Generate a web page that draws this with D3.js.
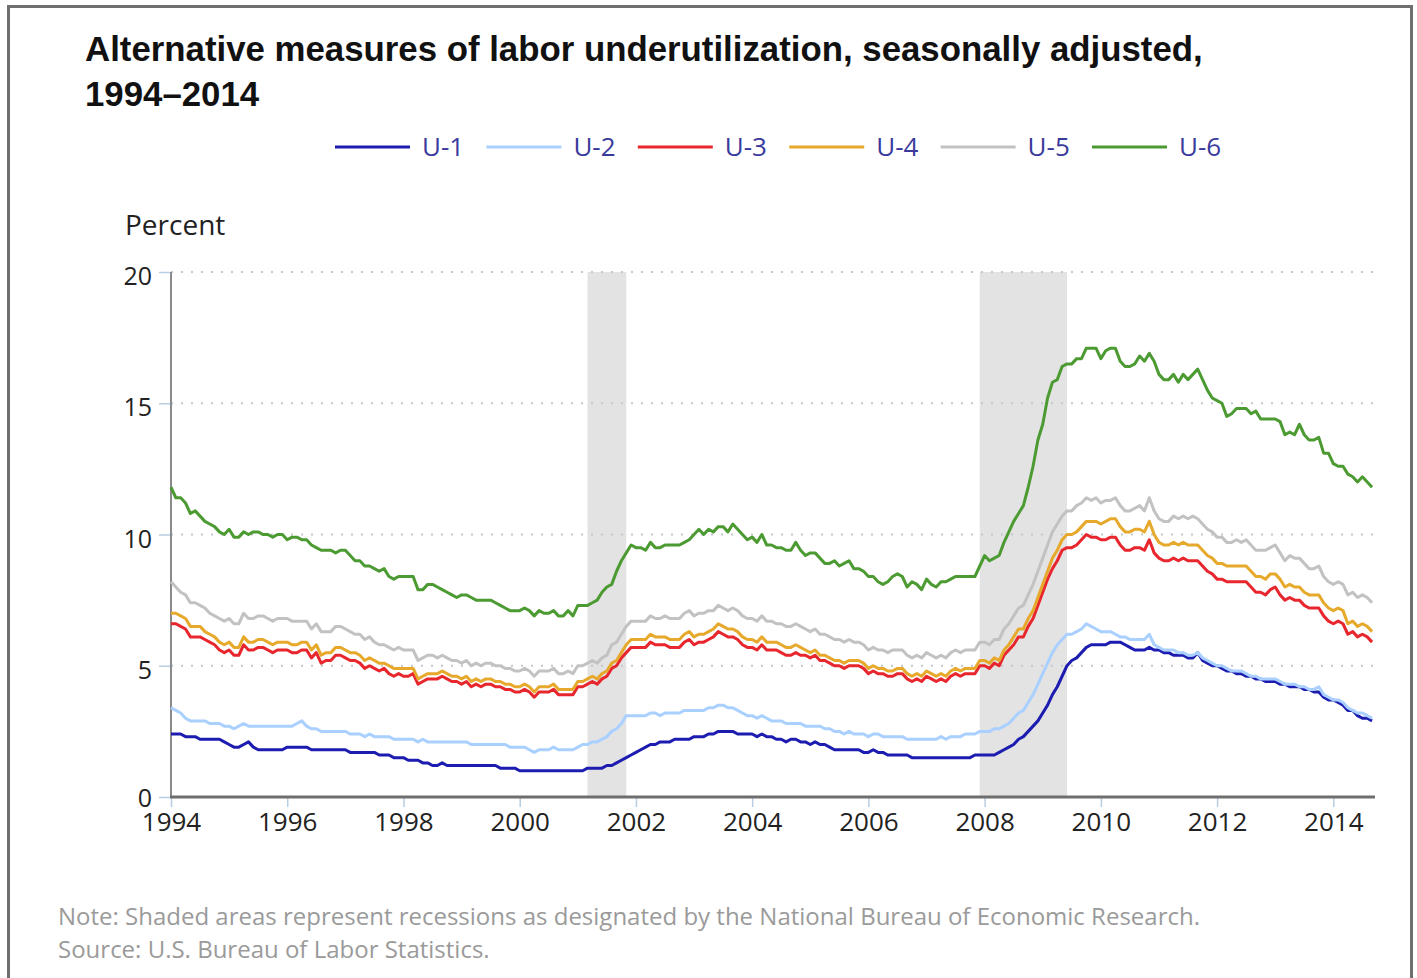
<!DOCTYPE html>
<html>
<head>
<meta charset="utf-8">
<script src="https://cdn.jsdelivr.net/npm/d3@7"></script>
<style>
  html, body { margin: 0; padding: 0; background: #fff; }
  svg { display: block; }
</style>
</head>
<body>
<svg id="chart" width="1417" height="978"></svg>
<script>
// ---------- DATA (monthly, Jan 1994 – Sep 2014) ----------
const startYear = 1994;
const seriesNames = ["U-1", "U-2", "U-3", "U-4", "U-5", "U-6"];
const seriesColors = ["#1c1cb0", "#a9d0ff", "#e8262d", "#e6a92c", "#c2c2c2", "#4c9a32"];

const u1 = [
  2.4,2.4,2.4,2.3,2.3,2.3,2.2,2.2,2.2,2.2,2.2,2.1,
  2.0,1.9,1.9,2.0,2.1,1.9,1.8,1.8,1.8,1.8,1.8,1.8,
  1.9,1.9,1.9,1.9,1.9,1.8,1.8,1.8,1.8,1.8,1.8,1.8,
  1.8,1.7,1.7,1.7,1.7,1.7,1.7,1.6,1.6,1.6,1.5,1.5,
  1.5,1.4,1.4,1.4,1.3,1.3,1.2,1.2,1.3,1.2,1.2,1.2,
  1.2,1.2,1.2,1.2,1.2,1.2,1.2,1.2,1.1,1.1,1.1,1.1,
  1.0,1.0,1.0,1.0,1.0,1.0,1.0,1.0,1.0,1.0,1.0,1.0,
  1.0,1.0,1.1,1.1,1.1,1.1,1.2,1.2,1.3,1.4,1.5,1.6,
  1.7,1.8,1.9,2.0,2.0,2.1,2.1,2.1,2.2,2.2,2.2,2.2,
  2.3,2.3,2.3,2.4,2.4,2.5,2.5,2.5,2.5,2.4,2.4,2.4,
  2.4,2.3,2.4,2.3,2.3,2.2,2.2,2.1,2.2,2.2,2.1,2.1,
  2.0,2.1,2.0,2.0,1.9,1.8,1.8,1.8,1.8,1.8,1.8,1.7,
  1.7,1.8,1.7,1.7,1.6,1.6,1.6,1.6,1.6,1.5,1.5,1.5,
  1.5,1.5,1.5,1.5,1.5,1.5,1.5,1.5,1.5,1.5,1.6,1.6,
  1.6,1.6,1.6,1.7,1.8,1.9,2.0,2.2,2.3,2.5,2.7,2.9,
  3.2,3.5,3.9,4.2,4.6,5.0,5.2,5.3,5.5,5.7,5.8,5.8,
  5.8,5.8,5.9,5.9,5.9,5.8,5.7,5.6,5.6,5.6,5.7,5.6,
  5.6,5.5,5.5,5.4,5.4,5.4,5.3,5.3,5.5,5.2,5.1,5.0,
  5.0,4.9,4.8,4.8,4.7,4.7,4.6,4.6,4.5,4.5,4.4,4.4,
  4.4,4.3,4.3,4.2,4.2,4.2,4.1,4.1,4.0,4.0,3.8,3.7,
  3.7,3.6,3.5,3.3,3.3,3.1,3.0,3.0,2.9
];
const u2 = [
  3.4,3.3,3.2,3.0,2.9,2.9,2.9,2.9,2.8,2.8,2.8,2.7,
  2.7,2.6,2.7,2.8,2.7,2.7,2.7,2.7,2.7,2.7,2.7,2.7,
  2.7,2.7,2.8,2.9,2.7,2.6,2.6,2.5,2.5,2.5,2.5,2.5,
  2.5,2.4,2.4,2.4,2.3,2.4,2.3,2.3,2.3,2.3,2.2,2.2,
  2.2,2.2,2.2,2.1,2.2,2.1,2.1,2.1,2.1,2.1,2.1,2.1,
  2.1,2.1,2.0,2.0,2.0,2.0,2.0,2.0,2.0,2.0,1.9,1.9,
  1.9,1.9,1.8,1.7,1.8,1.8,1.8,1.9,1.8,1.8,1.8,1.8,
  1.9,2.0,2.0,2.1,2.1,2.2,2.3,2.5,2.6,2.8,3.1,3.1,
  3.1,3.1,3.1,3.2,3.2,3.1,3.2,3.2,3.2,3.2,3.3,3.3,
  3.3,3.3,3.3,3.4,3.4,3.5,3.5,3.4,3.4,3.3,3.2,3.1,
  3.1,3.0,3.1,3.0,2.9,2.9,2.9,2.8,2.8,2.8,2.8,2.7,
  2.7,2.7,2.7,2.6,2.6,2.5,2.5,2.4,2.5,2.4,2.4,2.4,
  2.3,2.4,2.4,2.3,2.3,2.3,2.3,2.3,2.2,2.2,2.2,2.2,
  2.2,2.2,2.2,2.3,2.2,2.3,2.3,2.3,2.4,2.4,2.4,2.5,
  2.5,2.5,2.6,2.6,2.7,2.8,3.0,3.2,3.3,3.6,3.9,4.3,
  4.7,5.1,5.5,5.8,6.0,6.2,6.2,6.3,6.4,6.6,6.5,6.4,
  6.3,6.3,6.3,6.2,6.1,6.1,6.0,6.0,6.0,6.0,6.2,5.8,
  5.7,5.6,5.6,5.6,5.5,5.5,5.4,5.4,5.5,5.3,5.2,5.1,
  5.0,5.0,4.9,4.8,4.8,4.8,4.7,4.6,4.6,4.5,4.5,4.5,
  4.5,4.4,4.3,4.3,4.3,4.2,4.2,4.1,4.1,4.2,3.9,3.8,
  3.7,3.7,3.6,3.4,3.3,3.2,3.2,3.1,3.0
];
const u3 = [
  6.6,6.6,6.5,6.4,6.1,6.1,6.1,6.0,5.9,5.8,5.6,5.5,
  5.6,5.4,5.4,5.8,5.6,5.6,5.7,5.7,5.6,5.5,5.6,5.6,
  5.6,5.5,5.5,5.6,5.6,5.3,5.5,5.1,5.2,5.2,5.4,5.4,
  5.3,5.2,5.2,5.1,4.9,5.0,4.9,4.8,4.9,4.7,4.6,4.7,
  4.6,4.6,4.7,4.3,4.4,4.5,4.5,4.5,4.6,4.5,4.4,4.4,
  4.3,4.4,4.2,4.3,4.2,4.3,4.3,4.2,4.2,4.1,4.1,4.0,
  4.0,4.1,4.0,3.8,4.0,4.0,4.0,4.1,3.9,3.9,3.9,3.9,
  4.2,4.2,4.3,4.4,4.3,4.5,4.6,4.9,5.0,5.3,5.5,5.7,
  5.7,5.7,5.7,5.9,5.8,5.8,5.8,5.7,5.7,5.7,5.9,6.0,
  5.8,5.9,5.9,6.0,6.1,6.3,6.2,6.1,6.1,6.0,5.8,5.7,
  5.7,5.6,5.8,5.6,5.6,5.6,5.5,5.4,5.4,5.5,5.4,5.4,
  5.3,5.4,5.2,5.2,5.1,5.0,5.0,4.9,5.0,5.0,5.0,4.9,
  4.7,4.8,4.7,4.7,4.6,4.6,4.7,4.7,4.5,4.4,4.5,4.4,
  4.6,4.5,4.4,4.5,4.4,4.6,4.7,4.6,4.7,4.7,4.7,5.0,
  5.0,4.9,5.1,5.0,5.4,5.6,5.8,6.1,6.1,6.5,6.8,7.3,
  7.8,8.3,8.7,9.0,9.4,9.5,9.5,9.6,9.8,10.0,9.9,9.9,
  9.8,9.8,9.9,9.9,9.6,9.4,9.4,9.5,9.5,9.4,9.8,9.3,
  9.1,9.0,9.0,9.1,9.0,9.1,9.0,9.0,9.0,8.8,8.6,8.5,
  8.3,8.3,8.2,8.2,8.2,8.2,8.2,8.0,7.8,7.8,7.7,7.9,
  8.0,7.7,7.5,7.6,7.5,7.5,7.3,7.2,7.2,7.2,6.9,6.7,
  6.6,6.7,6.6,6.2,6.3,6.1,6.2,6.1,5.9
];
const u4 = [
  7.0,7.0,6.9,6.8,6.5,6.5,6.5,6.3,6.2,6.1,5.9,5.8,
  5.9,5.7,5.7,6.1,5.9,5.9,6.0,6.0,5.9,5.8,5.9,5.9,
  5.9,5.8,5.8,5.9,5.9,5.6,5.8,5.4,5.5,5.5,5.7,5.7,
  5.6,5.5,5.5,5.4,5.2,5.3,5.2,5.1,5.1,5.0,4.9,4.9,
  4.9,4.9,4.9,4.5,4.6,4.7,4.7,4.7,4.8,4.7,4.6,4.6,
  4.5,4.6,4.4,4.5,4.4,4.5,4.5,4.4,4.4,4.3,4.3,4.2,
  4.2,4.3,4.2,4.0,4.2,4.2,4.2,4.3,4.1,4.1,4.1,4.1,
  4.4,4.4,4.5,4.6,4.5,4.7,4.8,5.1,5.2,5.5,5.8,6.0,
  6.0,6.0,6.0,6.2,6.1,6.1,6.1,6.0,6.0,6.0,6.2,6.3,
  6.1,6.2,6.2,6.3,6.4,6.6,6.5,6.4,6.4,6.3,6.1,6.0,
  6.0,5.9,6.1,5.9,5.9,5.9,5.8,5.7,5.7,5.8,5.7,5.6,
  5.5,5.6,5.4,5.4,5.3,5.2,5.2,5.1,5.2,5.2,5.2,5.1,
  4.9,5.0,4.9,4.9,4.8,4.8,4.9,4.9,4.7,4.6,4.7,4.6,
  4.8,4.7,4.6,4.7,4.6,4.8,4.9,4.8,4.9,4.9,4.9,5.2,
  5.2,5.1,5.3,5.2,5.6,5.8,6.1,6.4,6.4,6.8,7.1,7.6,
  8.1,8.6,9.1,9.4,9.8,10.0,10.0,10.1,10.3,10.5,10.5,10.5,
  10.4,10.5,10.6,10.6,10.3,10.1,10.1,10.2,10.2,10.1,10.5,10.0,
  9.7,9.6,9.6,9.7,9.6,9.7,9.6,9.6,9.6,9.4,9.2,9.1,
  8.9,8.9,8.8,8.8,8.8,8.8,8.8,8.6,8.4,8.4,8.3,8.5,
  8.5,8.3,8.0,8.1,8.0,8.0,7.8,7.7,7.7,7.7,7.4,7.2,
  7.1,7.2,7.1,6.6,6.7,6.5,6.6,6.5,6.3
];
const u5 = [
  8.2,8.0,7.8,7.7,7.4,7.4,7.3,7.2,7.0,6.9,6.8,6.7,
  6.8,6.6,6.6,7.0,6.8,6.8,6.9,6.9,6.8,6.7,6.8,6.8,
  6.8,6.7,6.7,6.7,6.7,6.4,6.6,6.3,6.3,6.3,6.5,6.5,
  6.4,6.3,6.2,6.2,6.0,6.1,5.9,5.8,5.8,5.7,5.6,5.7,
  5.6,5.6,5.6,5.2,5.3,5.4,5.4,5.3,5.4,5.3,5.2,5.2,
  5.1,5.2,5.0,5.1,5.0,5.1,5.1,5.0,5.0,4.9,4.9,4.8,
  4.8,4.9,4.8,4.6,4.8,4.8,4.8,4.9,4.7,4.7,4.8,4.7,
  5.0,5.0,5.1,5.2,5.1,5.3,5.4,5.8,5.9,6.2,6.5,6.7,
  6.7,6.7,6.7,6.9,6.8,6.8,6.9,6.8,6.8,6.8,7.0,7.1,
  6.9,7.0,7.0,7.1,7.1,7.3,7.2,7.1,7.2,7.1,6.9,6.8,
  6.8,6.7,6.9,6.7,6.7,6.6,6.6,6.5,6.5,6.6,6.5,6.4,
  6.3,6.4,6.2,6.2,6.1,6.0,6.0,5.9,6.0,5.9,5.9,5.8,
  5.6,5.7,5.6,5.6,5.5,5.6,5.6,5.6,5.4,5.3,5.4,5.3,
  5.5,5.4,5.3,5.4,5.3,5.5,5.6,5.5,5.6,5.6,5.6,5.9,
  5.9,5.8,6.0,6.0,6.4,6.6,6.9,7.2,7.3,7.7,8.1,8.6,
  9.1,9.6,10.1,10.4,10.7,10.9,10.9,11.1,11.2,11.4,11.3,11.4,
  11.2,11.3,11.3,11.4,11.1,10.9,10.9,11.0,11.1,10.9,11.4,10.9,
  10.6,10.5,10.5,10.7,10.6,10.7,10.6,10.7,10.6,10.4,10.2,10.1,
  9.9,9.9,9.7,9.7,9.8,9.7,9.8,9.6,9.4,9.4,9.4,9.5,
  9.6,9.3,9.0,9.2,9.1,9.1,8.9,8.7,8.7,8.8,8.4,8.2,
  8.1,8.2,8.1,7.7,7.8,7.6,7.7,7.6,7.4
];
const u6 = [
  11.8,11.4,11.4,11.2,10.8,10.9,10.7,10.5,10.4,10.3,10.1,10.0,
  10.2,9.9,9.9,10.1,10.0,10.1,10.1,10.0,10.0,9.9,10.0,10.0,
  9.8,9.9,9.9,9.8,9.8,9.6,9.5,9.4,9.4,9.4,9.3,9.4,
  9.4,9.2,9.0,9.0,8.8,8.8,8.7,8.6,8.7,8.4,8.3,8.4,
  8.4,8.4,8.4,7.9,7.9,8.1,8.1,8.0,7.9,7.8,7.7,7.6,
  7.7,7.7,7.6,7.5,7.5,7.5,7.5,7.4,7.3,7.2,7.1,7.1,
  7.1,7.2,7.1,6.9,7.1,7.0,7.0,7.1,6.9,6.9,7.1,6.9,
  7.3,7.3,7.3,7.4,7.5,7.8,8.0,8.1,8.6,9.0,9.3,9.6,
  9.5,9.5,9.4,9.7,9.5,9.5,9.6,9.6,9.6,9.6,9.7,9.8,
  10.0,10.2,10.0,10.2,10.1,10.3,10.3,10.1,10.4,10.2,10.0,9.8,
  9.9,9.7,10.0,9.6,9.6,9.5,9.5,9.4,9.4,9.7,9.4,9.2,
  9.3,9.3,9.1,8.9,8.9,9.0,8.8,8.9,9.0,8.7,8.7,8.6,
  8.4,8.4,8.2,8.1,8.2,8.4,8.5,8.4,8.0,8.2,8.1,7.9,
  8.3,8.1,8.0,8.2,8.2,8.3,8.4,8.4,8.4,8.4,8.4,8.8,
  9.2,9.0,9.1,9.2,9.7,10.1,10.5,10.8,11.1,11.8,12.6,13.6,
  14.2,15.2,15.8,15.9,16.4,16.5,16.5,16.7,16.7,17.1,17.1,17.1,
  16.7,17.0,17.1,17.1,16.6,16.4,16.4,16.5,16.8,16.6,16.9,16.6,
  16.1,15.9,15.9,16.1,15.8,16.1,15.9,16.1,16.3,15.9,15.5,15.2,
  15.1,15.0,14.5,14.6,14.8,14.8,14.8,14.6,14.7,14.4,14.4,14.4,
  14.4,14.3,13.8,13.9,13.8,14.2,13.8,13.6,13.6,13.7,13.1,13.1,
  12.7,12.6,12.6,12.3,12.2,12.0,12.2,12.0,11.8
];
const seriesValues = [u1, u2, u3, u4, u5, u6];

const recessions = [["2001-03", "2001-11"], ["2007-12", "2009-06"]];
const xTickYears = [1994, 1996, 1998, 2000, 2002, 2004, 2006, 2008, 2010, 2012, 2014];
const yTickValues = [0, 5, 10, 15, 20];

const titleLines = ["Alternative measures of labor underutilization, seasonally adjusted,", "1994\u20132014"];
const yAxisLabel = "Percent";
const noteLines = [
  "Note: Shaded areas represent recessions as designated by the National Bureau of Economic Research.",
  "Source: U.S. Bureau of Labor Statistics."
];

// ---------- LAYOUT ----------
const svg = d3.select("#chart");
const plot = { left: 171, right: 1374, top: 272, bottom: 797 };

const toYear = s => { const [yy, m] = s.split("-").map(Number); return yy + (m - 1) / 12; };

const x = d3.scaleLinear().domain([1994, 2014.7]).range([plot.left, plot.right]);
const y = d3.scaleLinear().domain([0, 20]).range([plot.bottom, plot.top]);

// frame
svg.append("rect").attr("x", 8.5).attr("y", 6.5).attr("width", 1403).attr("height", 1000)
  .attr("fill", "none").attr("stroke", "#6f6f6f").attr("stroke-width", 3);

// title
const title = svg.append("text").attr("font-family", "'Liberation Sans', Arial, sans-serif")
  .attr("font-weight", "bold").attr("font-size", 34.8).attr("fill", "#111");
titleLines.forEach((t, i) => title.append("tspan").attr("x", 85).attr("y", 61 + i * 45).text(t));

// legend
const legend = svg.append("g");
seriesNames.forEach((name, i) => {
  const lx = 335 + i * 151.4;
  legend.append("line").attr("x1", lx).attr("x2", lx + 75).attr("y1", 147).attr("y2", 147)
    .attr("stroke", seriesColors[i]).attr("stroke-width", 3);
  legend.append("text").attr("x", lx + 87).attr("y", 156)
    .attr("font-family", "'Open Sans', sans-serif").attr("font-size", 26)
    .attr("fill", "#3a3a9c").text(name);
});

// y label
svg.append("text").attr("x", 125).attr("y", 235)
  .attr("font-family", "'Open Sans', sans-serif").attr("font-size", 28).attr("fill", "#222")
  .text(yAxisLabel);

// recession shading
svg.append("g").selectAll("rect").data(recessions).join("rect")
  .attr("x", d => x(toYear(d[0])))
  .attr("width", d => x(toYear(d[1])) - x(toYear(d[0])))
  .attr("y", plot.top).attr("height", plot.bottom - plot.top)
  .attr("fill", "#e3e3e3");

// gridlines
svg.append("g").selectAll("line").data(yTickValues.filter(v => v > 0)).join("line")
  .attr("x1", plot.left).attr("x2", plot.right + 2)
  .attr("y1", d => y(d)).attr("y2", d => y(d))
  .attr("stroke", "#c4c8cc").attr("stroke-width", 2).attr("stroke-dasharray", "2,8");

// y axis
const yAxis = d3.axisLeft(y).tickValues(yTickValues).tickSize(12).tickPadding(7);
const gy = svg.append("g").attr("transform", `translate(${plot.left},0)`).call(yAxis);
gy.select(".domain").remove();
gy.selectAll(".tick line").attr("stroke", "#b7cde3").attr("stroke-width", 1.5);
gy.selectAll(".tick text").attr("font-family", "'Open Sans', sans-serif").attr("font-size", 25)
  .attr("fill", "#222").attr("dy", d => d === 0 ? "0.36em" : "0.5em");
svg.append("line").attr("x1", plot.left).attr("x2", plot.left).attr("y1", plot.top).attr("y2", plot.bottom)
  .attr("stroke", "#8a8a8a").attr("stroke-width", 2);

// x axis
const xAxis = d3.axisBottom(x).tickValues(xTickYears).tickFormat(d3.format("d")).tickSize(10).tickPadding(6);
const gx = svg.append("g").attr("transform", `translate(0,${plot.bottom})`).call(xAxis);
gx.select(".domain").remove();
gx.selectAll(".tick line").attr("stroke", "#b7cde3").attr("stroke-width", 1.5);
gx.selectAll(".tick text").attr("font-family", "'Open Sans', sans-serif").attr("font-size", 26)
  .attr("fill", "#222");
svg.append("line").attr("x1", plot.left - 1).attr("x2", plot.right + 1).attr("y1", plot.bottom).attr("y2", plot.bottom)
  .attr("stroke", "#6e6e6e").attr("stroke-width", 3);

// series lines
const line = d3.line().x((d, i) => x(startYear + i / 12)).y(d => y(d));
svg.append("g").selectAll("path").data(seriesValues).join("path")
  .attr("d", d => line(d))
  .attr("fill", "none")
  .attr("stroke", (d, i) => seriesColors[i])
  .attr("stroke-width", 3)
  .attr("stroke-linejoin", "round");

// notes
noteLines.forEach((t, i) => {
  svg.append("text").attr("x", 58).attr("y", 925 + i * 33)
    .attr("font-family", "'Open Sans', sans-serif").attr("font-size", 24).attr("fill", "#9a9a9a")
    .text(t);
});
</script>
</body>
</html>
